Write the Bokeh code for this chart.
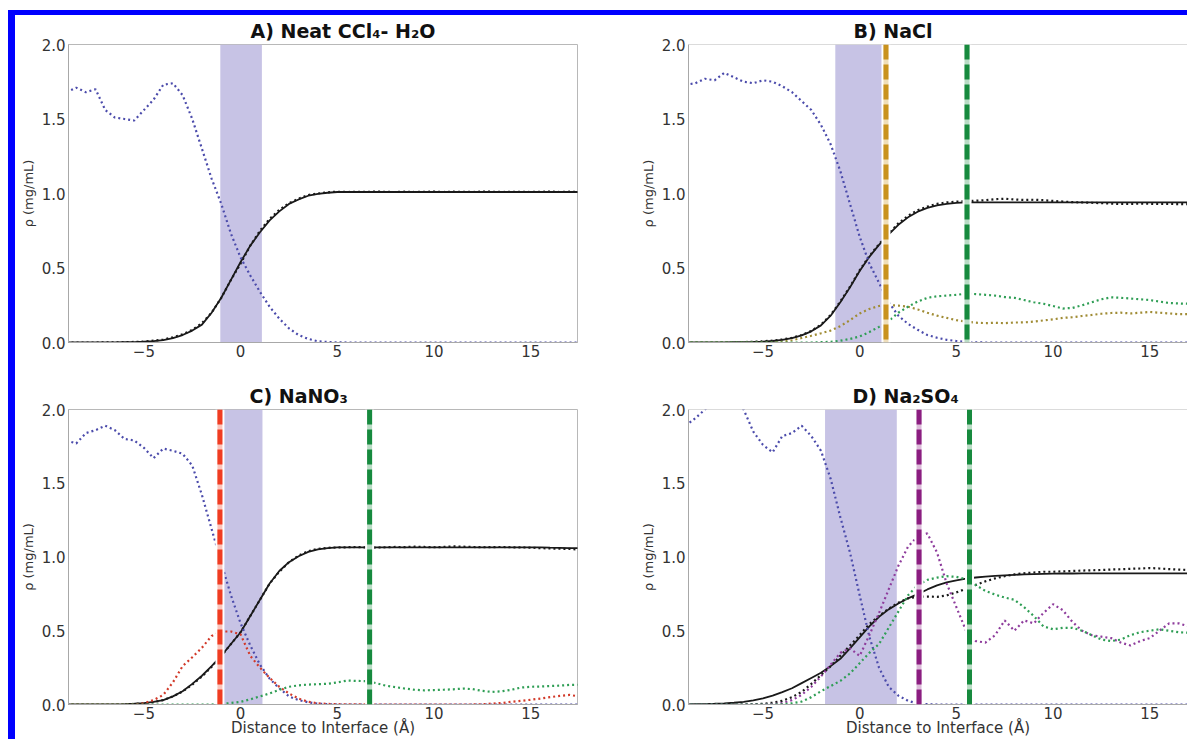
from bokeh.plotting import figure
from bokeh.models import (Range1d, Span, BoxAnnotation, FixedTicker,
                          PrintfTickFormatter, Spacer)
from bokeh.layouts import row, column
from bokeh.embed import file_html
from bokeh.resources import INLINE

# ---------------- data ----------------
x_grid = [-9.0, -8.5, -8.0, -7.5, -7.0, -6.5, -6.0, -5.5, -5.0, -4.5, -4.0, -3.5,
          -3.0, -2.5, -2.0, -1.5, -1.0, -0.5, 0.0, 0.5, 1.0, 1.5, 2.0, 2.5, 3.0,
          3.5, 4.0, 4.5, 5.0, 5.5, 6.0, 6.5, 7.0, 7.5, 8.0, 8.5, 9.0, 9.5, 10.0,
          10.5, 11.0, 11.5, 12.0, 12.5, 13.0, 13.5, 14.0, 14.5, 15.0, 15.5, 16.0,
          16.5, 17.0, 17.5]

# A) Neat CCl4 - H2O
a_ccl4 = [1.68, 1.71, 1.68, 1.70, 1.56, 1.51, 1.50, 1.49, 1.56, 1.63, 1.73, 1.74,
          1.66, 1.50, 1.30, 1.10, 0.93, 0.73, 0.57, 0.45, 0.34, 0.24, 0.16, 0.095,
          0.05, 0.024, 0.008, 0.003, 0.001, 0.0, 0.0, 0.0, 0.0, 0.0, 0.0, 0.0, 0.0,
          0.0, 0.0, 0.0, 0.0, 0.0, 0.0, 0.0, 0.0, 0.0, 0.0, 0.0, 0.0, 0.0, 0.0, 0.0,
          0.0, 0.0]
a_water_fit = [0.0, 0.0, 0.0, 0.0, 0.001, 0.001, 0.002, 0.003, 0.005, 0.009, 0.016,
               0.03, 0.05, 0.08, 0.12, 0.2, 0.3, 0.42, 0.54, 0.65, 0.74, 0.82, 0.88,
               0.93, 0.96, 0.985, 0.998, 1.005, 1.01, 1.01, 1.01, 1.01, 1.01, 1.01,
               1.01, 1.01, 1.01, 1.01, 1.01, 1.01, 1.01, 1.01, 1.01, 1.01, 1.01, 1.01,
               1.01, 1.01, 1.01, 1.01, 1.01, 1.01, 1.01, 1.01]
a_water = [0.0, 0.0, 0.0, 0.0, 0.001, 0.001, 0.002, 0.004, 0.006, 0.012, 0.02, 0.035,
           0.055, 0.085, 0.13, 0.2, 0.3, 0.42, 0.53, 0.65, 0.75, 0.83, 0.89, 0.935,
           0.965, 0.99, 1.0, 1.008, 1.012, 1.01, 1.012, 1.01, 1.013, 1.011, 1.01,
           1.012, 1.01, 1.011, 1.013, 1.01, 1.012, 1.011, 1.01, 1.013, 1.012, 1.01,
           1.011, 1.012, 1.01, 1.011, 1.013, 1.01, 1.012, 1.01]

# B) NaCl
b_ccl4 = [1.73, 1.74, 1.77, 1.76, 1.81, 1.78, 1.75, 1.74, 1.76, 1.75, 1.72, 1.68,
          1.62, 1.56, 1.46, 1.33, 1.15, 0.93, 0.71, 0.53, 0.40, 0.27, 0.18, 0.125,
          0.085, 0.05, 0.032, 0.018, 0.01, 0.004, 0.001, 0.0, 0.0, 0.0, 0.0, 0.0,
          0.0, 0.0, 0.0, 0.0, 0.0, 0.0, 0.0, 0.0, 0.0, 0.0, 0.0, 0.0, 0.0, 0.0, 0.0,
          0.0, 0.0, 0.0]
b_water_fit = [0.0, 0.0, 0.0, 0.0, 0.001, 0.002, 0.003, 0.004, 0.006, 0.01, 0.018,
               0.03, 0.048, 0.075, 0.115, 0.18, 0.27, 0.37, 0.48, 0.575, 0.655, 0.725,
               0.79, 0.84, 0.878, 0.903, 0.92, 0.93, 0.937, 0.94, 0.94, 0.94, 0.94,
               0.94, 0.94, 0.94, 0.94, 0.94, 0.94, 0.94, 0.94, 0.94, 0.94, 0.94, 0.94,
               0.94, 0.94, 0.94, 0.94, 0.94, 0.94, 0.94, 0.94, 0.94]
b_water = [0.0, 0.0, 0.0, 0.0, 0.001, 0.002, 0.003, 0.005, 0.008, 0.013, 0.02, 0.032,
           0.05, 0.078, 0.12, 0.185, 0.275, 0.375, 0.485, 0.58, 0.66, 0.73, 0.8, 0.85,
           0.888, 0.912, 0.93, 0.94, 0.945, 0.948, 0.952, 0.955, 0.962, 0.965, 0.96,
           0.957, 0.958, 0.955, 0.95, 0.946, 0.942, 0.94, 0.938, 0.935, 0.932, 0.93,
           0.93, 0.932, 0.931, 0.93, 0.93, 0.929, 0.928, 0.928]
b_na = [0.0, 0.0, 0.0, 0.0, 0.0, 0.0, 0.0, 0.0, 0.0, 0.0, 0.005, 0.015, 0.03, 0.045,
        0.062, 0.08, 0.11, 0.15, 0.195, 0.225, 0.245, 0.25, 0.248, 0.24, 0.222, 0.2,
        0.18, 0.165, 0.15, 0.14, 0.133, 0.13, 0.132, 0.13, 0.134, 0.135, 0.14, 0.148,
        0.155, 0.165, 0.17, 0.178, 0.185, 0.193, 0.198, 0.2, 0.195, 0.2, 0.205, 0.2,
        0.195, 0.19, 0.19, 0.185]
b_cl = [0.0, 0.0, 0.0, 0.0, 0.0, 0.0, 0.0, 0.0, 0.0, 0.0, 0.0, 0.0, 0.0, 0.0, 0.002,
        0.005, 0.012, 0.024, 0.04, 0.07, 0.105, 0.145, 0.2, 0.24, 0.275, 0.3, 0.31,
        0.315, 0.32, 0.328, 0.325, 0.32, 0.315, 0.305, 0.3, 0.285, 0.27, 0.26, 0.245,
        0.228, 0.232, 0.25, 0.27, 0.29, 0.303, 0.3, 0.295, 0.29, 0.285, 0.275, 0.265,
        0.262, 0.26, 0.255]

# C) NaNO3
c_ccl4 = [1.79, 1.77, 1.84, 1.86, 1.89, 1.86, 1.80, 1.79, 1.74, 1.67, 1.735, 1.72,
          1.70, 1.62, 1.42, 1.19, 0.96, 0.74, 0.55, 0.40, 0.27, 0.175, 0.11, 0.055,
          0.03, 0.015, 0.006, 0.002, 0.0, 0.0, 0.0, 0.0, 0.0, 0.0, 0.0, 0.0, 0.0, 0.0,
          0.0, 0.0, 0.0, 0.0, 0.0, 0.0, 0.0, 0.0, 0.0, 0.0, 0.0, 0.0, 0.0, 0.0, 0.0,
          0.0]
c_water_fit = [0.0, 0.0, 0.0, 0.0, 0.0, 0.0, 0.002, 0.005, 0.009, 0.018, 0.03, 0.055,
               0.09, 0.14, 0.195, 0.26, 0.33, 0.41, 0.49, 0.6, 0.71, 0.82, 0.905,
               0.965, 1.005, 1.035, 1.052, 1.06, 1.065, 1.065, 1.065, 1.065, 1.065,
               1.065, 1.065, 1.065, 1.065, 1.065, 1.065, 1.065, 1.065, 1.065, 1.065,
               1.065, 1.065, 1.065, 1.065, 1.065, 1.065, 1.065, 1.063, 1.062, 1.06,
               1.06]
c_water = [0.0, 0.0, 0.0, 0.0, 0.0, 0.0, 0.002, 0.004, 0.008, 0.016, 0.03, 0.055,
           0.088, 0.135, 0.19, 0.255, 0.33, 0.41, 0.49, 0.6, 0.71, 0.82, 0.9, 0.965,
           1.01, 1.04, 1.055, 1.062, 1.065, 1.066, 1.068, 1.065, 1.064, 1.066, 1.068,
           1.067, 1.07, 1.068, 1.066, 1.068, 1.072, 1.07, 1.068, 1.066, 1.067, 1.068,
           1.066, 1.065, 1.064, 1.06, 1.058, 1.056, 1.055, 1.05]
c_no3 = [0.0, 0.0, 0.0, 0.0, 0.0, 0.0, 0.0, 0.0, 0.008, 0.03, 0.065, 0.15, 0.26, 0.32,
         0.385, 0.465, 0.495, 0.495, 0.475, 0.33, 0.25, 0.18, 0.12, 0.075, 0.04, 0.018,
         0.008, 0.004, 0.002, 0.001, 0.001, 0.0, 0.0, 0.0, 0.0, 0.0, 0.0, 0.0, 0.0,
         0.0, 0.0, 0.0, 0.0, 0.002, 0.006, 0.01, 0.018, 0.025, 0.032, 0.04, 0.05,
         0.058, 0.065, 0.055]
c_na = [0.0, 0.0, 0.0, 0.0, 0.0, 0.0, 0.0, 0.0, 0.0, 0.0, 0.0, 0.0, 0.0, 0.0, 0.0, 0.0,
        0.004, 0.01, 0.018, 0.035, 0.055, 0.075, 0.1, 0.12, 0.13, 0.135, 0.138, 0.14,
        0.15, 0.162, 0.16, 0.158, 0.145, 0.128, 0.118, 0.108, 0.1, 0.096, 0.098, 0.1,
        0.103, 0.108, 0.104, 0.092, 0.085, 0.09, 0.1, 0.115, 0.12, 0.122, 0.125,
        0.128, 0.133, 0.134]

# D) Na2SO4
d_ccl4 = [1.89, 1.94, 2.0, 2.05, 2.08, 2.06, 2.0, 1.85, 1.76, 1.71, 1.82, 1.84, 1.89,
          1.82, 1.72, 1.53, 1.27, 1.03, 0.74, 0.46, 0.25, 0.12, 0.06, 0.025, 0.006,
          0.002, 0.0, 0.0, 0.0, 0.0, 0.0, 0.0, 0.0, 0.0, 0.0, 0.0, 0.0, 0.0, 0.0, 0.0,
          0.0, 0.0, 0.0, 0.0, 0.0, 0.0, 0.0, 0.0, 0.0, 0.0, 0.0, 0.0, 0.0, 0.0]
d_water_fit = [0.0, 0.002, 0.003, 0.005, 0.008, 0.012, 0.018, 0.028, 0.042, 0.06,
               0.084, 0.11, 0.145, 0.18, 0.215, 0.26, 0.31, 0.38, 0.455, 0.53, 0.595,
               0.645, 0.685, 0.72, 0.748, 0.78, 0.808, 0.828, 0.842, 0.853, 0.861,
               0.867, 0.872, 0.876, 0.879, 0.882, 0.884, 0.886, 0.887, 0.888, 0.888,
               0.889, 0.889, 0.889, 0.889, 0.889, 0.889, 0.889, 0.889, 0.889, 0.889,
               0.889, 0.889, 0.889]
d_water = [0.0, 0.0, 0.0, 0.0, 0.0, 0.0, 0.0, 0.002, 0.005, 0.012, 0.025, 0.05, 0.085,
           0.14, 0.2, 0.26, 0.33, 0.4, 0.47, 0.545, 0.6, 0.65, 0.69, 0.72, 0.73, 0.732,
           0.73, 0.74, 0.76, 0.785, 0.81, 0.835, 0.855, 0.87, 0.882, 0.89, 0.895, 0.9,
           0.9, 0.903, 0.905, 0.908, 0.91, 0.912, 0.915, 0.917, 0.92, 0.922, 0.925,
           0.922, 0.918, 0.915, 0.912, 0.91]
d_so4 = [0.0, 0.0, 0.0, 0.0, 0.0, 0.0, 0.0, 0.0, 0.0, 0.003, 0.01, 0.03, 0.065, 0.12,
         0.19, 0.27, 0.35, 0.38, 0.33, 0.47, 0.62, 0.78, 0.94, 1.07, 1.14, 1.16, 1.03,
         0.82, 0.66, 0.5, 0.43, 0.42, 0.47, 0.57, 0.5, 0.57, 0.55, 0.62, 0.68, 0.64,
         0.56, 0.5, 0.47, 0.46, 0.45, 0.42, 0.4, 0.43, 0.45, 0.5, 0.55, 0.55, 0.53,
         0.52]
d_na = [0.0, 0.0, 0.0, 0.0, 0.0, 0.0, 0.0, 0.0, 0.0, 0.0, 0.002, 0.008, 0.02, 0.05,
        0.09, 0.125, 0.16, 0.21, 0.28, 0.35, 0.41, 0.52, 0.63, 0.74, 0.81, 0.845,
        0.86, 0.87, 0.865, 0.85, 0.81, 0.77, 0.745, 0.725, 0.71, 0.66, 0.6, 0.53,
        0.51, 0.52, 0.52, 0.5, 0.47, 0.44, 0.43, 0.44, 0.47, 0.49, 0.5, 0.51, 0.5,
        0.49, 0.486, 0.48]

# interface regions and ion-peak markers (x, in Angstrom)
shade_a = [-1.05, 1.10]
shade_b = [-1.26, 1.36]
shade_c = [-1.07, 1.13]
shade_d = [-1.79, 1.92]
marks_b = [1.36, 5.55]
marks_c = [-1.07, 6.67]
marks_d = [3.07, 5.68]

x_ticks = [-5, 0, 5, 10, 15]
x_tick_labels = ["\u22125", "0", "5", "10", "15"]
y_ticks = [0.0, 0.5, 1.0, 1.5, 2.0]

titles = ["A) Neat CCl\u2084- H\u2082O", "B)  NaCl", "C) NaNO\u2083", "D)  Na\u2082SO\u2084"]
x_label = "Distance to Interface (\u00c5)"
y_label = "\u03c1 (mg/mL)"

for arr in [a_ccl4, a_water_fit, a_water, b_ccl4, b_water_fit, b_water, b_na, b_cl,
            c_ccl4, c_water_fit, c_water, c_no3, c_na, d_ccl4, d_water_fit, d_water,
            d_so4, d_na]:
    assert len(arr) == len(x_grid), len(arr)

# ---------------- styling ----------------
FONT = "DejaVu Sans"
TICK_COLOR = "#333333"
C_CCL4 = "#4b4bab"
C_BLACK = "#1a1a1a"
SHADE = "#c7c3e5"
DOT = "2 3"


def make_panel(title, title_off, x0, x1, w, h, bl, br, bt, bb, right_edge, xlabel):
    p = figure(width=w, height=h, x_range=Range1d(x0, x1), y_range=Range1d(0, 2),
               output_backend="svg", toolbar_location=None,
               min_border_left=bl, min_border_right=br, min_border_top=bt,
               min_border_bottom=bb)
    p.title.text = title
    p.title.align = "left"
    p.title.offset = title_off
    p.title.text_font = FONT
    p.title.text_font_size = "19px"
    p.title.text_font_style = "bold"
    p.title.text_color = "#111111"
    p.title.standoff = 5
    p.xgrid.visible = False
    p.ygrid.visible = False
    p.background_fill_color = "white"
    p.border_fill_color = "white"
    if right_edge:
        p.outline_line_color = "#b8b8b8"
    else:
        p.outline_line_color = None
        p.add_layout(Span(location=2.0, dimension="width", line_color="#b8b8b8",
                          line_width=1))
    for ax in (p.xaxis[0], p.yaxis[0]):
        ax.major_tick_in = 0
        ax.major_tick_out = 0
        ax.minor_tick_in = 0
        ax.minor_tick_out = 0
        ax.major_label_text_font = FONT
        ax.major_label_text_font_size = "15px"
        ax.major_label_text_color = TICK_COLOR
        ax.axis_line_color = "#a8a8a8"
        ax.axis_label_text_font = FONT
        ax.axis_label_text_color = "#333333"
        ax.axis_label_text_font_style = "normal"
    p.xaxis.ticker = FixedTicker(ticks=x_ticks)
    p.xaxis.major_label_overrides = {t: s for t, s in zip(x_ticks, x_tick_labels)}
    p.xaxis.major_label_standoff = 2
    p.yaxis.ticker = FixedTicker(ticks=y_ticks)
    p.yaxis.formatter = PrintfTickFormatter(format="%.1f")
    p.yaxis.major_label_standoff = 3
    p.yaxis.axis_label = y_label
    p.yaxis.axis_label_text_font_size = "13px"
    p.yaxis.axis_label_standoff = 3
    if xlabel:
        p.xaxis.axis_label = x_label
        p.xaxis.axis_label_text_font_size = "15px"
        p.xaxis.axis_label_standoff = -3
    return p


def shade(p, bounds):
    p.add_layout(BoxAnnotation(left=bounds[0], right=bounds[1], fill_color=SHADE,
                               fill_alpha=1.0, line_color=None, level="underlay"))


def marker(p, xpos, color):
    p.add_layout(Span(location=xpos, dimension="height", line_color="white",
                      line_width=9))
    p.add_layout(Span(location=xpos, dimension="height", line_color=color,
                      line_alpha=0.3, line_width=5))
    p.add_layout(Span(location=xpos, dimension="height", line_color=color,
                      line_width=5, line_dash="15 5"))


def dotted(p, ys, color):
    p.line(x_grid, ys, line_color=color, line_width=2.2, line_dash=DOT)


def fit(p, ys):
    p.line(x_grid, ys, line_color=C_BLACK, line_width=1.8)


LW, RW = 605, 567
H1, H2 = 363, 361
AX0, AX1 = -8.9, 17.42
BX0, BX1 = -8.85, 16.95

pA = make_panel(titles[0], 182, AX0, AX1, LW, H1, 53, 43, 28, 36, True, False)
shade(pA, shade_a)
fit(pA, a_water_fit)
dotted(pA, a_water, C_BLACK)
dotted(pA, a_ccl4, C_CCL4)

pB = make_panel(titles[1], 165, BX0, BX1, RW, H1, 68, 0, 28, 36, False, False)
shade(pB, shade_b)
fit(pB, b_water_fit)
dotted(pB, b_water, C_BLACK)
dotted(pB, b_ccl4, C_CCL4)
dotted(pB, b_na, "#a08c35")
dotted(pB, b_cl, "#2f9e55")
marker(pB, marks_b[0], "#c9921f")
marker(pB, marks_b[1], "#178a3e")

pC = make_panel(titles[2], 181, AX0, AX1, LW, H2, 53, 43, 31, 30, True, True)
shade(pC, shade_c)
fit(pC, c_water_fit)
dotted(pC, c_water, C_BLACK)
dotted(pC, c_ccl4, C_CCL4)
dotted(pC, c_no3, "#d23a2a")
dotted(pC, c_na, "#2f9e55")
marker(pC, marks_c[0], "#f03c22")
marker(pC, marks_c[1], "#178a3e")

pD = make_panel(titles[3], 164, BX0, BX1, RW, H2, 68, 0, 31, 30, False, True)
shade(pD, shade_d)
fit(pD, d_water_fit)
dotted(pD, d_water, C_BLACK)
dotted(pD, d_ccl4, C_CCL4)
dotted(pD, d_so4, "#8e3c9c")
dotted(pD, d_na, "#2f9e55")
marker(pD, marks_d[0], "#8b1e80")
marker(pD, marks_d[1], "#178a3e")

BLUE = "#0000ff"
grid = column(row(pA, pB), row(pC, pD))
inner = column(Spacer(width=1179, height=5, styles={"background-color": BLUE}),
               row(Spacer(width=7, height=724, styles={"background-color": BLUE}), grid))
layout = column(Spacer(width=1187, height=10),
                row(Spacer(width=8, height=729), inner))

open("out.html", "w").write(file_html(layout, INLINE))
